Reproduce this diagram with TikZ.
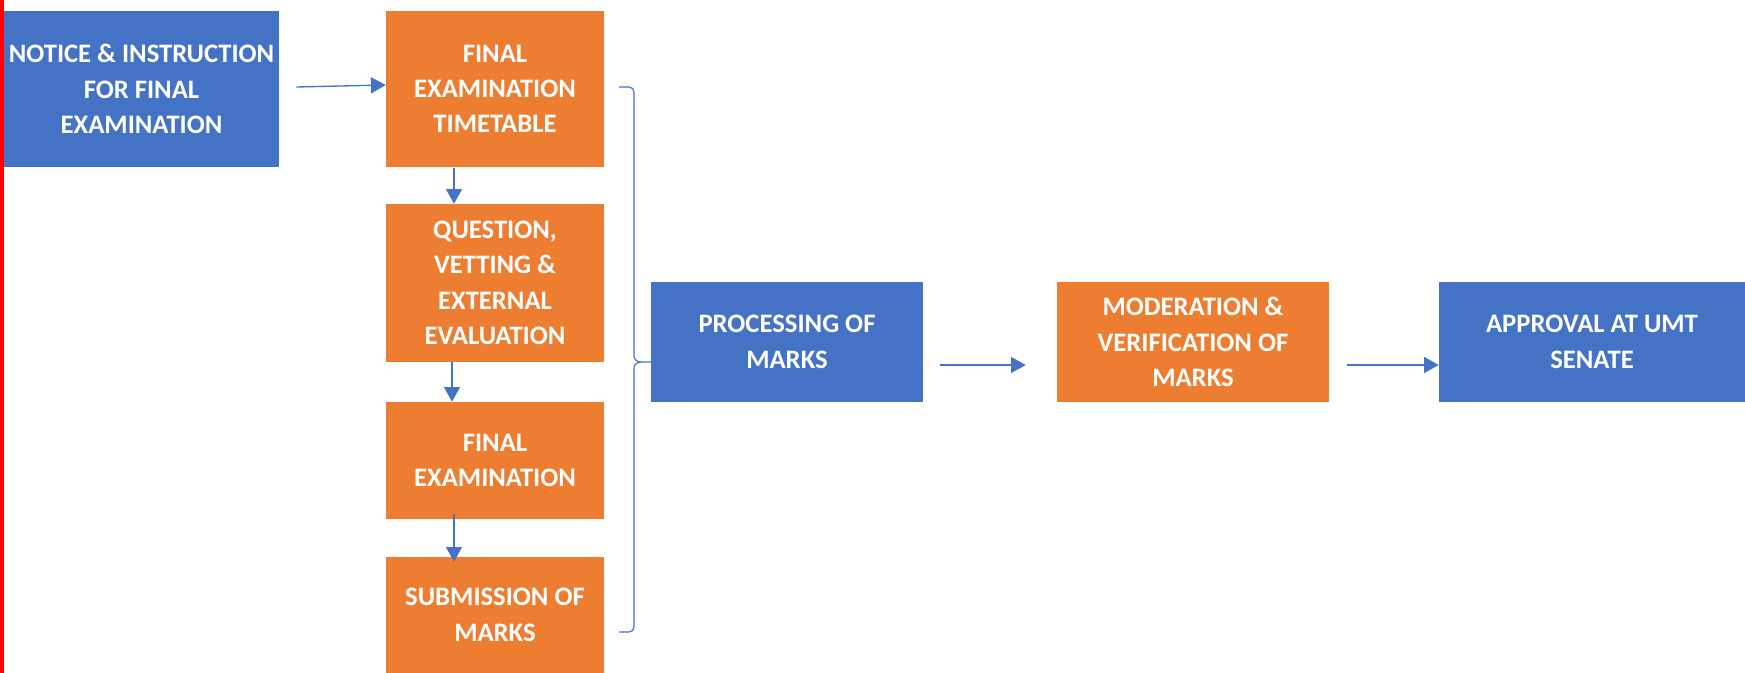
\documentclass[tikz,border=0pt]{standalone}
\usepackage{fontspec}
\setmainfont{Carlito}
\usetikzlibrary{arrows.meta,calc}
\definecolor{cblue}{HTML}{4472C4}
\definecolor{corange}{HTML}{ED7D31}
\begin{document}
\begin{tikzpicture}[x=0.75pt,y=-0.75pt,
  box/.style={draw=none, inner sep=0pt, align=center, text=white,
    font=\bfseries\fontsize{20}{26.5}\selectfont},
  bbox/.style={box, fill=cblue},
  obox/.style={box, fill=corange},
  arr/.style={draw=cblue, line width=1pt, -{Triangle[length=11pt,width=12pt]}},
  bracestyle/.style={draw=cblue, line width=0.9pt}]
\useasboundingbox (0,0) rectangle (1745,673);
\fill[red] (0,0) rectangle (4,673);
% left column
\node[bbox, minimum width=206.25pt, minimum height=117pt] (n1) at (141.5,89) {NOTICE \& INSTRUCTION\\FOR FINAL\\EXAMINATION};
\node[obox, minimum width=163.5pt, minimum height=117pt] (o1) at (495,89) {FINAL\\EXAMINATION\\TIMETABLE};
\node[obox, minimum width=163.5pt, minimum height=118.5pt] (o2) at (495,283) {QUESTION,\\VETTING \&\\EXTERNAL\\EVALUATION};
\node[obox, minimum width=163.5pt, minimum height=87.75pt] (o3) at (495,460.5) {FINAL\\EXAMINATION};
\node[obox, minimum width=163.5pt, minimum height=87pt] (o4) at (495,615) {SUBMISSION OF\\MARKS};
% right row
\node[bbox, minimum width=204pt, minimum height=90pt] (p) at (787,342) {PROCESSING OF\\MARKS};
\node[obox, minimum width=204pt, minimum height=90pt] (m) at (1193,342) {MODERATION \&\\VERIFICATION OF\\MARKS};
\node[bbox, minimum width=229.5pt, minimum height=90pt] (a) at (1592,342) {APPROVAL AT UMT\\SENATE};
% arrows
\draw[arr] ($(n1.east)+(17,-2)$) -- ($(o1.west)+(0,-4)$);
\draw[arr] ($(o1.south)+(-41,1)$) -- ($(o2.north)+(-41,0)$);
\draw[arr] ($(o2.south)+(-43,0)$) -- ($(o3.north)+(-43,0)$);
\draw[arr] ($(o3.south)+(-41,-5)$) -- ($(o4.north)+(-41,5)$);
\draw[arr] ($(p.east)+(17,23)$) -- ($(m.west)+(-31,23)$);
\draw[arr] ($(m.east)+(18,23)$) -- ($(a.west)+(0,23)$);
% brace
\draw[bracestyle] (619,87) -- (629,87) to[out=0,in=90] (634,92) -- (634,356)
  to[out=-90,in=180] (641,362) -- (651,362);
\draw[bracestyle] (641,362) to[out=180,in=90] (634,368) -- (634,627)
  to[out=-90,in=0] (629,632) -- (619,632);
\end{tikzpicture}
\end{document}
